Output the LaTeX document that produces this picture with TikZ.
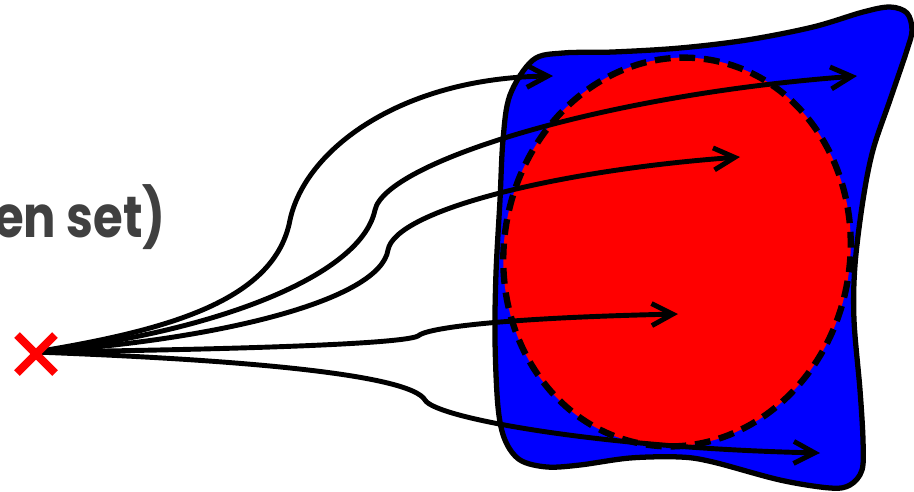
\documentclass[tikz,border=0pt]{standalone}
\usepackage{fontspec}
\newfontfamily\labelfont{Poppins}
\usetikzlibrary{arrows.meta}
\definecolor{labelgray}{RGB}{64,64,64}
\begin{document}
\begin{tikzpicture}[x=0.02cm, y=-0.02cm, >={Straight Barb[length=4.2mm, width=4.4mm]},
  trajectory/.style={->, line width=2.8pt, line cap=round, line join=round}]
\useasboundingbox (0,0) rectangle (914,491);
% Cropped label
\node[anchor=base west, inner sep=0pt, text=labelgray, xscale=0.83, transform shape,
  font=\labelfont\bfseries\fontsize{33}{35}\selectfont] (setlabel) at (-6,237) {en set)};
% Outer region (blue blob)
\draw[line width=3pt, fill=blue, line join=round] plot[smooth cycle, tension=0.55] coordinates {
  (533,60) (563,53) (613,52) (680,48) (747,40) (813,27) (863,12) (890,7) (907,13) (912,30)
  (907,50) (890,100) (873,150) (863,200) (855,265) (854,320) (860,390) (863,440) (862,470)
  (850,485) (830,488) (780,480) (713,462) (680,457) (630,458) (580,465) (547,467) (520,460)
  (505,440) (498,407) (495,340) (496,273) (500,200) (503,140) (510,95)};
% Inner region (dashed red ellipse)
\fill[red, rotate around={-10:(677,252)}] (677,252) ellipse [x radius=173, y radius=195];
\draw[line width=3.6pt, dash pattern=on 9pt off 5pt, rotate around={-10:(677,252)}]
  (677,252) ellipse [x radius=173, y radius=195];
% Start point and arrow tips
\coordinate (src) at (35,352);
\coordinate (t1) at (553,76);
\coordinate (t2) at (857,76);
\coordinate (t3) at (740,157);
\coordinate (t4) at (678,314);
\coordinate (t5) at (820,453);
% Trajectories
\draw[trajectory] (src) .. controls (170,330) and (275,300) .. (290,220)
  .. controls (305,150) and (400,78) .. (t1);
\draw[trajectory] (src) .. controls (200,335) and (360,280) .. (375,210)
  .. controls (385,163) and (600,95) .. (t2);
\draw[trajectory] (src) .. controls (220,340) and (380,300) .. (388,250)
  .. controls (395,210) and (560,170) .. (t3);
\draw[trajectory] (src) .. controls (200,350) and (400,345) .. (418,336)
  .. controls (426,328) and (500,318) .. (t4);
\draw[trajectory] (src) .. controls (250,360) and (410,375) .. (425,400)
  .. controls (435,418) and (600,448) .. (t5);
% Start marker
\draw[red, line width=4.5pt] (17,335) -- (55,373);
\draw[red, line width=4.5pt] (17,373) -- (55,335);
\end{tikzpicture}
\end{document}
